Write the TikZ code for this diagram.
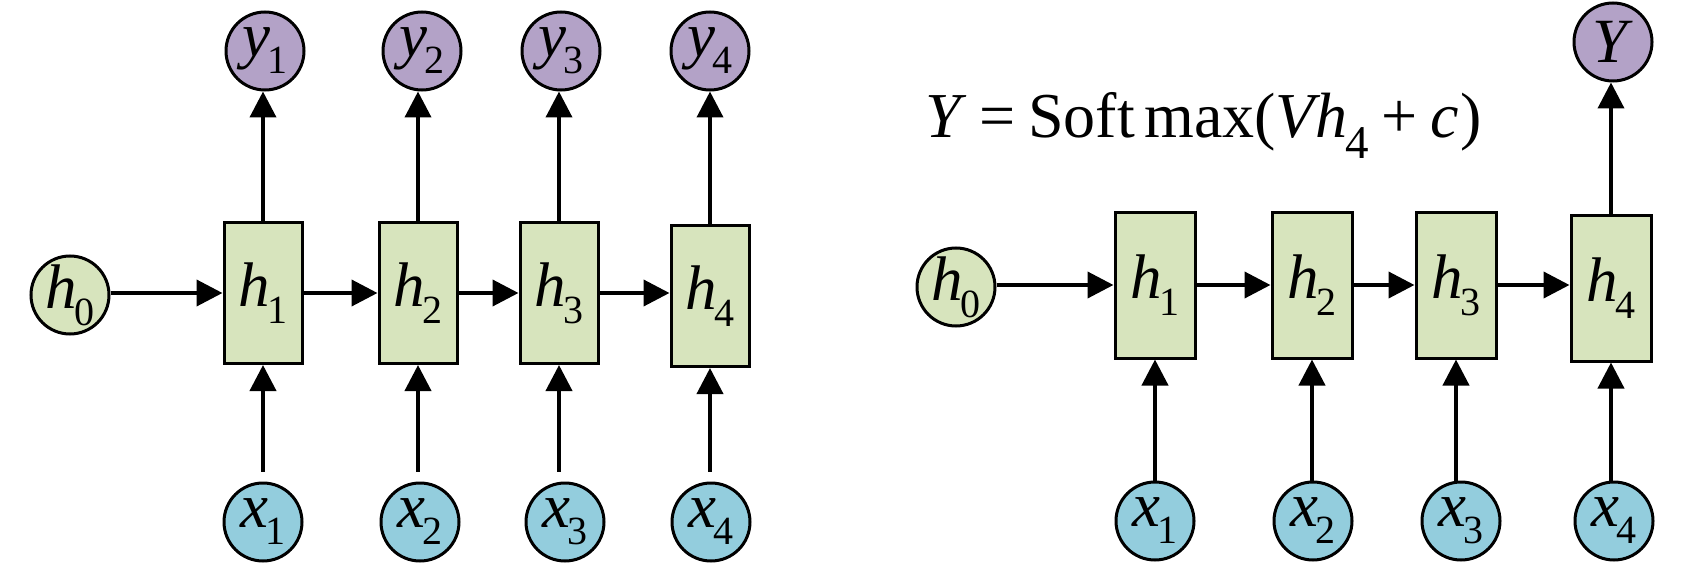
\documentclass[tikz,border=0pt]{standalone}
\usepackage{fontspec}
\newfontfamily\tnr{Liberation Serif}
\usetikzlibrary{arrows.meta}
\definecolor{hgreen}{HTML}{D7E4BD}
\definecolor{ypurple}{HTML}{B3A2C7}
\definecolor{xblue}{HTML}{93CDDD}
\newcommand\vlab[2]{\textit{#1}\kern-3pt\raisebox{-17pt}{\fontsize{40}{40}\selectfont\tnr #2}}
\newcommand\eqsub[1]{\kern-2pt\raisebox{-21pt}{\fontsize{47}{47}\selectfont\tnr #1}}
\begin{document}
\begin{tikzpicture}[x=1pt,y=-1pt,
  lbltext/.style={font=\fontsize{63}{63}\selectfont\tnr, inner sep=0pt},
  circnode/.style={circle, draw, line width=3pt, minimum size=78pt, inner sep=0pt,
    label={[lbltext]center:#1}},
  boxnode/.style={rectangle, draw, line width=3pt, fill=hgreen, inner sep=0pt,
    font=\fontsize{63}{63}\selectfont\tnr},
  lbox/.style={boxnode, minimum width=78pt, minimum height=141pt},
  rbox/.style={boxnode, minimum width=80pt, minimum height=146pt},
  arr/.style={line width=4pt, -{Triangle[length=26pt,width=26pt]}},
]
\useasboundingbox (0,0) rectangle (1701,567);
% ---------- left diagram ----------
\node[circnode={\vlab{h}{0}}, fill=hgreen] (lh0) at (70,295) {};
\node[lbox] (lb1) at (263,293) {\vlab{h}{1}};
\node[lbox] (lb2) at (418,293) {\vlab{h}{2}};
\node[lbox] (lb3) at (559,293) {\vlab{h}{3}};
\node[lbox] (lb4) at (710,296) {\vlab{h}{4}};
\node[circnode={\vlab{y}{1}}, fill=ypurple] (ly1) at (265,51) {};
\node[circnode={\vlab{y}{2}}, fill=ypurple] (ly2) at (422,51) {};
\node[circnode={\vlab{y}{3}}, fill=ypurple] (ly3) at (561,51) {};
\node[circnode={\vlab{y}{4}}, fill=ypurple] (ly4) at (710,51) {};
\node[circnode={\vlab{x}{1}}, fill=xblue] (lx1) at (263,522) {};
\node[circnode={\vlab{x}{2}}, fill=xblue] (lx2) at (420,522) {};
\node[circnode={\vlab{x}{3}}, fill=xblue] (lx3) at (565,522) {};
\node[circnode={\vlab{x}{4}}, fill=xblue] (lx4) at (711,522) {};
\draw[arr] (lh0.east |- lb1.west) -- (lb1.west);
\draw[arr] (lb1.east) -- (lb2.west);
\draw[arr] (lb2.east) -- (lb3.west);
\draw[arr] (lb3.east) -- (lb3.east -| lb4.west);
\foreach \i in {1,...,4}{
  \draw[arr] (lb\i.north) -- (lb\i.north |- ly\i.south);
  \draw[arr, shorten <=10pt] (lb\i.south |- lx\i.north) -- (lb\i.south);
}
% ---------- right diagram ----------
\node[anchor=base west, font=\fontsize{64}{64}\selectfont\tnr, inner sep=0pt] (eq) at (925,138)
  {\textit{Y}\hspace{0.2em}=\hspace{0.2em}Soft\hspace{0.15em}max(\textit{Vh}\eqsub{4}\hspace{0.2em}+\hspace{0.2em}\textit{c}\kern2pt)};
\node[circnode={\textit{Y}}, fill=ypurple] (rY) at (1613,42) {};
\node[circnode={\vlab{h}{0}}, fill=hgreen] (rh0) at (956,287) {};
\node[rbox] (rb1) at (1155,285) {\vlab{h}{1}};
\node[rbox] (rb2) at (1312,285) {\vlab{h}{2}};
\node[rbox] (rb3) at (1456,285) {\vlab{h}{3}};
\node[rbox] (rb4) at (1611,288) {\vlab{h}{4}};
\node[circnode={\vlab{x}{1}}, fill=xblue] (rx1) at (1155,521) {};
\node[circnode={\vlab{x}{2}}, fill=xblue] (rx2) at (1313,521) {};
\node[circnode={\vlab{x}{3}}, fill=xblue] (rx3) at (1461,521) {};
\node[circnode={\vlab{x}{4}}, fill=xblue] (rx4) at (1614,521) {};
\draw[arr] (rh0.east |- rb1.west) -- (rb1.west);
\draw[arr] (rb1.east) -- (rb2.west);
\draw[arr] (rb2.east) -- (rb3.west);
\draw[arr] (rb3.east) -- (rb3.east -| rb4.west);
\draw[arr] (rb4.north) -- (rb4.north |- rY.south);
\foreach \i in {1,...,4}{
  \draw[arr] (rb\i.south |- rx\i.north) -- (rb\i.south);
}
\end{tikzpicture}
\end{document}
